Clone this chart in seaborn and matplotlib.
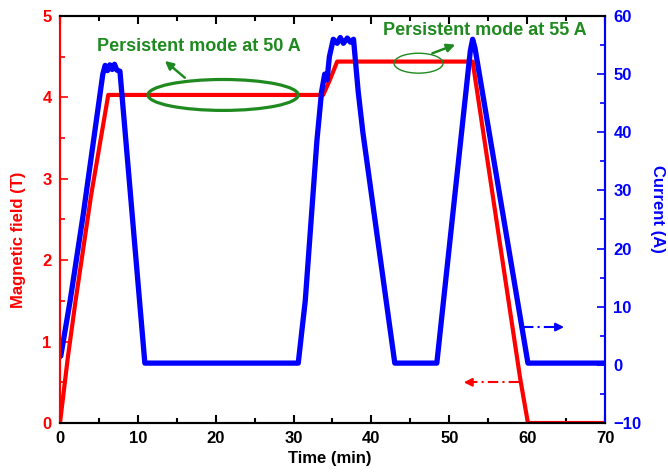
import numpy as np
import pandas as pd
import seaborn as sns
import matplotlib.pyplot as plt
from matplotlib.patches import Ellipse
from matplotlib.ticker import MultipleLocator

# magnetic field (T) vs time (min)
field_time = [0, 1.0, 2.0, 4.0, 6.2, 33.8, 34.6, 35.6, 53.0, 59.1, 60.1, 70]
field_tesla = [0, 0.8, 1.5, 2.8, 4.03, 4.03, 4.2, 4.44, 4.44, 0.55, 0, 0]

# current (A) vs time (min)
current_time = [0.1, 1.3, 3.0, 5.5, 5.8, 6.1, 6.4, 6.7, 7.0, 7.3, 7.7, 10.9,
                30.6, 31.5, 33.0, 33.6, 34.0, 34.3, 34.6, 35.1, 35.6, 36.0,
                36.4, 36.9, 37.3, 37.7, 38.3, 38.9, 43.0,
                48.4, 52.7, 53.0, 53.3, 60.1, 70]
current_amp = [1.5, 11.0, 26.0, 50.0, 51.5, 50.6, 51.6, 50.8, 51.7, 50.7, 50.5, 0.3,
               0.3, 11.0, 38.6, 47.0, 50.0, 49.0, 53.0, 56.0, 55.3, 56.3,
               55.3, 56.2, 55.5, 56.0, 47.0, 40.0, 0.3,
               0.3, 54.0, 56.0, 54.5, 0.3, 0.3]

field_df = pd.DataFrame({'Time': field_time, 'Field': field_tesla})
current_df = pd.DataFrame({'Time': current_time, 'Current': current_amp})

sns.set_style('ticks')
plt.rcParams['font.family'] = ['Liberation Sans', 'DejaVu Sans']
plt.rcParams['font.weight'] = 'bold'

red = '#ff0000'
blue = '#0000ff'
green = '#1f8a1f'

fig = plt.figure(figsize=(6.68, 4.73), dpi=100)
ax1 = fig.add_axes([0.0898, 0.1057, 0.8159, 0.8605])
ax2 = ax1.twinx()

sns.lineplot(data=field_df, x='Time', y='Field', ax=ax1, color=red, lw=3,
             estimator=None, sort=False)
sns.lineplot(data=current_df, x='Time', y='Current', ax=ax2, color=blue, lw=3.8,
             estimator=None, sort=False)

ax1.set_xlim(0, 70)
ax1.set_ylim(0, 5)
ax2.set_ylim(-10, 60)
ax1.xaxis.set_major_locator(MultipleLocator(10))
ax1.xaxis.set_minor_locator(MultipleLocator(5))
ax1.yaxis.set_major_locator(MultipleLocator(1))
ax1.yaxis.set_minor_locator(MultipleLocator(0.5))
ax2.yaxis.set_major_locator(MultipleLocator(10))
ax2.yaxis.set_minor_locator(MultipleLocator(5))

for ax in (ax1, ax2):
    for sp in ax.spines.values():
        sp.set_linewidth(1.5)
    ax.spines['top'].set_color('black')
    ax.spines['bottom'].set_color('black')
    ax.spines['left'].set_color(red)
    ax.spines['right'].set_color(blue)

ax1.tick_params(axis='x', which='both', direction='in', top=True, colors='black',
                labelsize=12, pad=6)
ax1.tick_params(axis='x', which='major', length=6, width=1.5)
ax1.tick_params(axis='x', which='minor', length=3.5, width=1.5)
ax1.tick_params(axis='y', which='both', direction='in', colors=red, labelsize=12, pad=6)
ax1.tick_params(axis='y', which='major', length=6, width=1.2)
ax1.tick_params(axis='y', which='minor', length=3.5, width=1.2)
ax2.tick_params(axis='y', which='both', direction='in', colors=blue, labelsize=12, pad=6)
ax2.tick_params(axis='y', which='major', length=6, width=1.2)
ax2.tick_params(axis='y', which='minor', length=3.5, width=1.2)
for lab in ax1.get_xticklabels() + ax1.get_yticklabels() + ax2.get_yticklabels():
    lab.set_fontweight('bold')

ax1.set_xlabel('Time (min)', fontsize=12, fontweight='bold', color='black')
ax1.set_ylabel('Magnetic field (T)', fontsize=12, fontweight='bold', color=red)
ax2.set_ylabel('Current (A)', fontsize=12, fontweight='bold', color=blue, rotation=270)
ax1.xaxis.set_label_coords(0.495, -0.07)
ax1.yaxis.set_label_coords(-0.062, 0.45)
ax2.yaxis.set_label_coords(1.11, 0.525)

# annotations
ax1.add_patch(Ellipse((20.95, 4.03), 19.3, 0.38, fill=False, ec=green, lw=2.3, zorder=5))
ax1.add_patch(Ellipse((46.05, 4.42), 6.3, 0.245, fill=False, ec=green, lw=1, zorder=5))
ax1.annotate('', xy=(13.2, 4.47), xytext=(16.3, 4.22),
             arrowprops=dict(arrowstyle='-|>', color=green, lw=1.8, mutation_scale=12))
ax1.annotate('', xy=(51.1, 4.66), xytext=(47.5, 4.53),
             arrowprops=dict(arrowstyle='-|>', color=green, lw=1.8, mutation_scale=12))
ax1.text(17.9, 4.62, 'Persistent mode at 50 A', color=green, fontsize=13,
         fontweight='bold', ha='center', va='center')
ax1.text(54.5, 4.82, 'Persistent mode at 55 A', color=green, fontsize=13,
         fontweight='bold', ha='center', va='center')

# dash-dot axis pointers
ax1.plot([52.3, 59.1], [0.5, 0.5], color=red, lw=1.5, ls=(0, (5, 2, 1, 2)))
ax1.annotate('', xy=(51.5, 0.5), xytext=(53.0, 0.5),
             arrowprops=dict(arrowstyle='-|>', color=red, lw=1.5, mutation_scale=12))
ax2.plot([59.5, 64.3], [6.5, 6.5], color=blue, lw=1.5, ls=(0, (5, 2, 1, 2)))
ax2.annotate('', xy=(65.1, 6.5), xytext=(63.6, 6.5),
             arrowprops=dict(arrowstyle='-|>', color=blue, lw=1.5, mutation_scale=12))

fig.savefig('out.png', dpi=100)
